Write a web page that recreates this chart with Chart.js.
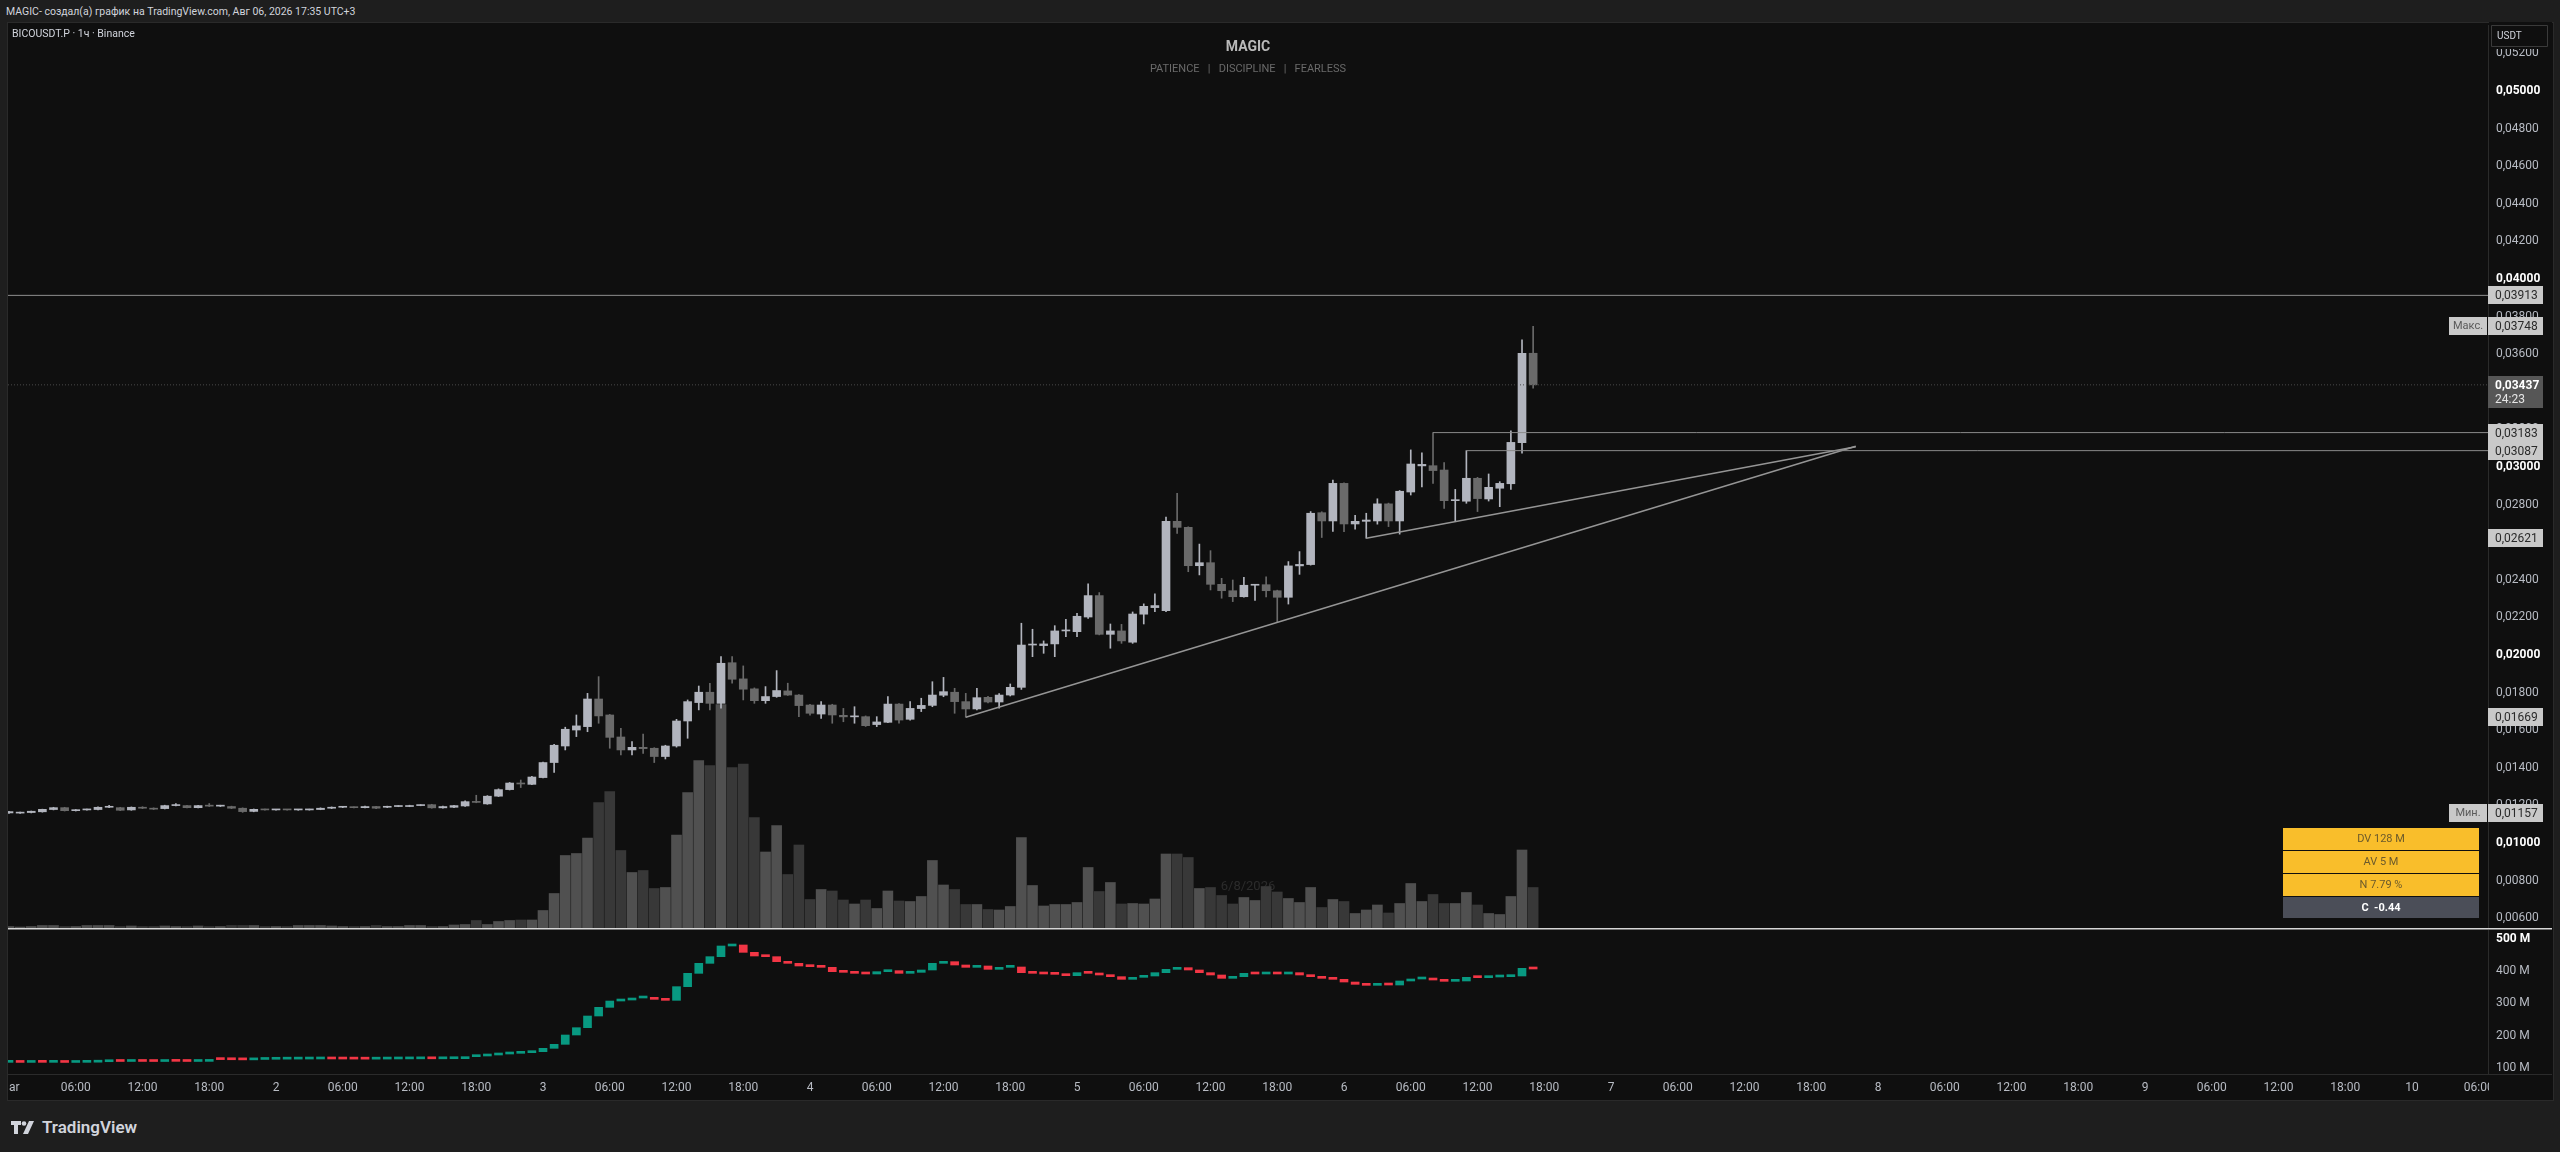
<!DOCTYPE html>
<html>
<head>
<meta charset="utf-8">
<script src="https://cdn.jsdelivr.net/npm/chart.js@4.4.1/dist/chart.umd.min.js"></script>
<style>
html, body { margin: 0; padding: 0; width: 2560px; height: 1152px; overflow: hidden; background: #1e1e1e; font-family: Roboto, "Noto Sans", sans-serif; }
#frame { position: absolute; left: 7px; top: 22px; width: 2547px; height: 1079px; background: #0f0f0f; border: 1px solid #2a2a2a; box-sizing: border-box; }
canvas { position: absolute; }
#c1 { left: 8px; top: 22px; width: 2544px; height: 908px; }
#c2 { left: 8px; top: 930px; width: 2544px; height: 170px; }
#hdr { position: absolute; left: 6px; top: 5px; font-size: 10.5px; line-height: 14px; color: #d1d4dc; white-space: nowrap; }
#sym { position: absolute; left: 12px; top: 27px; font-size: 10.5px; line-height: 14px; color: #d1d4dc; white-space: nowrap; }
#ttl { position: absolute; left: 1148px; width: 200px; top: 38px; text-align: center; font-size: 14px; font-weight: bold; line-height: 16px; color: #b9b9b9; }
#sub { position: absolute; left: 1048px; width: 400px; top: 62px; text-align: center; font-size: 11px; line-height: 14px; color: #6a6a6a; white-space: pre; }
#tbl { position: absolute; left: 2283px; top: 828px; width: 196px; font-size: 11px; text-align: center; }
#tbl div { height: 22px; line-height: 22px; margin-bottom: 1px; background: #f9be2b; color: #6b5a2c; }
#tbl div.c { background: #4b4e58; color: #ffffff; font-weight: bold; height: 21px; line-height: 21px; }
#logo { position: absolute; left: 11px; top: 1117px; height: 20px; display: flex; align-items: center; color: #d1d4dc; font-size: 17px; font-weight: 600; }
#logo svg { margin-right: 6px; }
</style>
</head>
<body>
<div id="hdr">MAGIC- создал(а) график на TradingView.com, Авг 06, 2026 17:35 UTC+3</div>
<div id="frame"></div>
<canvas id="c1" width="2544" height="908"></canvas>
<canvas id="c2" width="2544" height="170"></canvas>
<div id="sym">BICOUSDT.P · 1ч · Binance</div>
<div id="ttl">MAGIC</div>
<div id="sub">PATIENCE   |   DISCIPLINE   |   FEARLESS</div>
<div id="tbl">
  <div>DV 128 M</div>
  <div>AV 5 M</div>
  <div>N 7.79 %</div>
  <div class="c">C &nbsp;-0.44</div>
</div>
<div id="logo"><svg width="25" height="13" viewBox="0 0 25 13"><path d="M0 0h10v4H7v9H3V4H0z" fill="#d1d4dc"/><circle cx="13" cy="2.5" r="2.3" fill="#d1d4dc"/><path d="M18 0h5l-6 13h-5z" fill="#d1d4dc"/></svg>TradingView</div>

<script>
// hourly candles, index 0 = day 1 00:00
const open = [
  0.01160,0.01159,0.01162,0.01166,0.01178,0.01188,0.01172,0.01176,0.01178,0.01190,
  0.01188,0.01176,0.01190,0.01185,0.01183,0.01199,0.01199,0.01188,0.01199,0.01196,
  0.01194,0.01185,0.01168,0.01179,0.01176,0.01177,0.01176,0.01176,0.01178,0.01185,
  0.01190,0.01192,0.01188,0.01194,0.01190,0.01194,0.01194,0.01199,0.01204,0.01187,
  0.01190,0.01197,0.01220,0.01208,0.01249,0.01284,0.01319,0.01312,0.01348,0.01428,
  0.01516,0.01601,0.01619,0.01766,0.01681,0.01564,0.01495,0.01509,0.01504,0.01460,
  0.01516,0.01649,0.01747,0.01802,0.01743,0.01959,0.01873,0.01820,0.01757,0.01779,
  0.01809,0.01787,0.01734,0.01686,0.01734,0.01679,0.01671,0.01672,0.01630,0.01642,
  0.01739,0.01658,0.01715,0.01732,0.01786,0.01802,0.01752,0.01713,0.01775,0.01750,
  0.01787,0.01828,0.02053,0.02050,0.02059,0.02128,0.02124,0.02202,0.02316,0.02110,
  0.02128,0.02068,0.02217,0.02252,0.02236,0.02711,0.02679,0.02475,0.02491,0.02376,
  0.02342,0.02310,0.02371,0.02374,0.02342,0.02307,0.02474,0.02481,0.02757,0.02713,
  0.02913,0.02697,0.02711,0.02713,0.02804,0.02713,0.02867,0.03006,0.03007,0.02984,
  0.02821,0.02818,0.02940,0.02830,0.02887,0.02911,0.03129,0.03605
];
const high = [
  0.01168,0.01165,0.01170,0.01180,0.01190,0.01190,0.01178,0.01181,0.01192,0.01201,
  0.01190,0.01192,0.01193,0.01187,0.01201,0.01210,0.01201,0.01201,0.01210,0.01201,
  0.01196,0.01187,0.01181,0.01181,0.01178,0.01179,0.01178,0.01180,0.01187,0.01192,
  0.01194,0.01193,0.01196,0.01195,0.01196,0.01199,0.01201,0.01204,0.01206,0.01196,
  0.01201,0.01224,0.01254,0.01252,0.01288,0.01322,0.01335,0.01355,0.01430,0.01525,
  0.01616,0.01681,0.01796,0.01885,0.01684,0.01610,0.01539,0.01580,0.01507,0.01520,
  0.01658,0.01761,0.01835,0.01850,0.01991,0.01991,0.01942,0.01825,0.01832,0.01917,
  0.01850,0.01790,0.01738,0.01752,0.01738,0.01716,0.01725,0.01676,0.01672,0.01779,
  0.01742,0.01752,0.01770,0.01858,0.01881,0.01823,0.01796,0.01823,0.01780,0.01795,
  0.01846,0.02169,0.02137,0.02075,0.02156,0.02190,0.02222,0.02378,0.02332,0.02165,
  0.02163,0.02229,0.02272,0.02325,0.02733,0.02860,0.02682,0.02590,0.02555,0.02408,
  0.02399,0.02413,0.02376,0.02416,0.02345,0.02497,0.02550,0.02763,0.02762,0.02931,
  0.02916,0.02743,0.02754,0.02831,0.02808,0.02875,0.03091,0.03076,0.03183,0.03023,
  0.02881,0.03087,0.02945,0.02963,0.02922,0.03193,0.03676,0.03748
];
const low = [
  0.01158,0.01157,0.01160,0.01164,0.01176,0.01170,0.01170,0.01174,0.01176,0.01188,
  0.01172,0.01174,0.01183,0.01178,0.01181,0.01197,0.01186,0.01186,0.01194,0.01194,
  0.01183,0.01163,0.01166,0.01174,0.01174,0.01174,0.01174,0.01175,0.01177,0.01183,
  0.01188,0.01186,0.01187,0.01183,0.01188,0.01193,0.01193,0.01198,0.01185,0.01185,
  0.01188,0.01195,0.01214,0.01206,0.01247,0.01282,0.01295,0.01310,0.01346,0.01376,
  0.01495,0.01566,0.01592,0.01637,0.01504,0.01468,0.01468,0.01477,0.01428,0.01447,
  0.01510,0.01557,0.01708,0.01708,0.01717,0.01850,0.01761,0.01743,0.01743,0.01775,
  0.01785,0.01672,0.01680,0.01663,0.01637,0.01645,0.01637,0.01620,0.01619,0.01640,
  0.01637,0.01654,0.01699,0.01725,0.01778,0.01690,0.01669,0.01708,0.01745,0.01717,
  0.01782,0.01817,0.01991,0.02009,0.01991,0.02098,0.02098,0.02195,0.02107,0.02036,
  0.02062,0.02062,0.02165,0.02231,0.02231,0.02647,0.02443,0.02426,0.02346,0.02302,
  0.02284,0.02307,0.02291,0.02309,0.02172,0.02271,0.02429,0.02478,0.02625,0.02657,
  0.02656,0.02669,0.02621,0.02696,0.02683,0.02643,0.02851,0.02894,0.02913,0.02780,
  0.02709,0.02807,0.02763,0.02819,0.02789,0.02881,0.03073,0.03420
];
const close = [
  0.01167,0.01163,0.01169,0.01179,0.01188,0.01172,0.01176,0.01179,0.01190,0.01194,
  0.01174,0.01190,0.01185,0.01180,0.01199,0.01201,0.01188,0.01199,0.01196,0.01198,
  0.01185,0.01167,0.01179,0.01176,0.01177,0.01176,0.01177,0.01178,0.01185,0.01190,
  0.01192,0.01188,0.01194,0.01185,0.01194,0.01197,0.01199,0.01202,0.01187,0.01194,
  0.01199,0.01220,0.01216,0.01249,0.01284,0.01319,0.01314,0.01351,0.01428,0.01520,
  0.01605,0.01623,0.01766,0.01676,0.01562,0.01495,0.01509,0.01502,0.01460,0.01516,
  0.01649,0.01752,0.01802,0.01743,0.01956,0.01871,0.01818,0.01757,0.01779,0.01811,
  0.01787,0.01731,0.01690,0.01734,0.01681,0.01671,0.01675,0.01624,0.01644,0.01739,
  0.01654,0.01716,0.01732,0.01787,0.01805,0.01752,0.01713,0.01773,0.01750,0.01787,
  0.01828,0.02053,0.02055,0.02059,0.02128,0.02131,0.02206,0.02316,0.02110,0.02128,
  0.02075,0.02218,0.02259,0.02263,0.02711,0.02679,0.02475,0.02491,0.02376,0.02342,
  0.02310,0.02371,0.02374,0.02342,0.02307,0.02474,0.02482,0.02754,0.02713,0.02913,
  0.02697,0.02711,0.02718,0.02804,0.02713,0.02871,0.03016,0.03014,0.02981,0.02821,
  0.02825,0.02940,0.02832,0.02892,0.02913,0.03131,0.03605,0.03437
];
// volume, millions
const volume = [
  0.3,0.2,0.3,0.5,0.5,0.3,0.3,0.5,0.5,0.5,
  0.3,0.4,0.3,0.3,0.4,0.3,0.3,0.4,0.3,0.3,
  0.5,0.5,0.5,0.3,0.3,0.3,0.5,0.5,0.5,0.4,
  0.3,0.3,0.3,0.5,0.3,0.3,0.5,0.5,0.3,0.3,
  0.6,0.7,1.5,0.7,1.3,1.5,1.6,1.6,3.5,6.9,
  14.5,14.9,18,25.1,27.3,15.5,11.1,11.5,7.9,8.1,
  18.6,27.1,33.5,32.5,44.7,32.1,32.8,22.1,15.2,20.5,
  10.7,16.6,5.7,7.7,7.4,5.6,4.8,5.6,3.9,7.4,
  5.4,5.3,6.3,13.5,8.6,7.7,4.7,4.7,3.7,3.6,
  4.3,18.1,8.5,4.4,4.7,4.7,5.1,12.1,7.3,9.1,
  4.8,4.9,4.8,5.8,14.8,14.8,14.1,7.9,8.1,6.5,
  4.8,6.1,5.5,8.3,7.2,5.9,5.1,8.1,4.1,5.7,
  5.3,2.9,3.6,4.6,3.0,4.9,8.9,5.3,6.7,4.9,
  4.9,7.1,4.6,2.9,2.7,6.3,15.6,8.1
];
// lower pane: cumulative volume, millions (close of each hour)
const cumVol = [
  117.5,117.3,117.8,117.5,117.6,117.2,117.5,118,119.5,120.5,
  120.2,120.6,120.3,120.1,120.7,120.6,120.2,120.5,126.5,126,
  125.6,125.2,126.5,127,127.4,127.6,127.8,128,128.2,128,
  127.8,127.6,127.4,127.7,128,128.2,128.4,128.6,128.5,128.8,
  129,135.1,137.2,140.3,143.4,145.5,147.5,150.6,161,173.4,
  202.3,225,261.2,288.1,307.7,310.8,317,319.1,312.9,309.8,
  352.2,393.5,424.5,445.2,478.3,481.4,458.6,447.3,445.2,429.7,
  424.5,416.3,414.2,412.1,398.7,396.6,393.5,391.5,398.7,401.8,
  393.5,396.6,403.9,424.5,429.7,419.4,412.1,416.3,405.9,412.1,
  413.2,395.6,393.5,391.5,390.4,386.3,395.6,393.5,388.4,383.2,
  374.9,381.1,385.3,395.6,405.9,411.1,403.9,395.6,388.4,378,
  383.2,393.5,391.5,395.6,391.5,395.6,388.4,383.2,378,374.9,
  366.6,359.4,356.3,359.4,357.3,369.8,376,378,372.8,368.7,
  369.8,381.1,380.1,382.2,383.2,385.3,409,407
];

const priceTicks = [0.006,0.008,0.010,0.012,0.014,0.016,0.018,0.020,0.022,0.024,0.026,0.028,0.030,
                    0.032,0.034,0.036,0.038,0.040,0.042,0.044,0.046,0.048,0.050,0.052];
const cumTicks = [100, 200, 300, 400, 500];
const timeLabels = ['Mar','06:00','12:00','18:00','2','06:00','12:00','18:00','3','06:00','12:00','18:00',
                    '4','06:00','12:00','18:00','5','06:00','12:00','18:00','6','06:00','12:00','18:00',
                    '7','06:00','12:00','18:00','8','06:00','12:00','18:00','9','06:00','12:00','18:00',
                    '10','06:00'];

// drawn levels and trendlines (hour index, price)
const levelPrice = [0.03913, 0.03183, 0.03087];
const levelFrom  = [-0.09, 128, 131];
const trendLowX = [86, 166],  trendLowY = [0.01669, 0.03110];
const trendHighX = [122, 166], trendHighY = [0.02621, 0.03108];
const anchorPrices = [0.02621, 0.01669];

const X_MIN = -0.09, X_MAX = 222.83;

Chart.defaults.font.family = 'Roboto, "Noto Sans", sans-serif';
Chart.defaults.animation = false;

const UP = '#b2b5be', DOWN = '#6a6a6a';
const isUp = close.map((c, i) => c >= open[i]);
const lastClose = close[close.length - 1];
const maxHigh = Math.max(...high), minLow = Math.min(...low);
const fmt = v => v.toFixed(5).replace('.', ',');
const isMajor = c => !!(c.tick && Math.round(c.tick.value * 1000) % 10 === 0);
const isTop = c => !!(c.tick && c.tick.value === 500);

const lineDs = (xs, ys, color, width, dash) => ({
  type: 'line', yAxisID: 'y', order: 0,
  data: xs.map((x, i) => ({ x: x, y: ys[i] })),
  borderColor: color, borderWidth: width, borderDash: dash || [],
  pointRadius: 0, fill: false, tension: 0
});

const mainDecor = {
  id: 'mainDecor',
  beforeDatasetsDraw(chart) {
    const ctx = chart.ctx;
    ctx.save();
    ctx.fillStyle = '#2c2c2c';
    ctx.font = '13px Roboto';
    ctx.textAlign = 'center';
    ctx.textBaseline = 'middle';
    ctx.fillText('6/8/2026', 1240, 865);
    ctx.restore();
  },
  afterDraw(chart) {
    const ctx = chart.ctx, ys = chart.scales.y;
    const ax = chart.chartArea.right;
    ctx.save();
    ctx.fillStyle = '#d6d6d6';
    ctx.fillRect(0, 906, chart.width, 1.5);

    const tag = (val, txt, bg, fg) => {
      const y = Math.round(ys.getPixelForValue(val));
      ctx.fillStyle = bg;
      ctx.fillRect(ax, y - 9, 55, 18);
      ctx.fillStyle = fg;
      ctx.font = '12px Roboto';
      ctx.textAlign = 'left';
      ctx.textBaseline = 'middle';
      ctx.fillText(txt, ax + 7, y + 0.5);
      return y;
    };
    const pre = (y, txt) => {
      ctx.fillStyle = '#c9c9c9';
      ctx.fillRect(ax - 39, y - 9, 38, 18);
      ctx.fillStyle = '#5a5a5a';
      ctx.font = '11px Roboto';
      ctx.textAlign = 'center';
      ctx.fillText(txt, ax - 20, y + 0.5);
    };
    levelPrice.forEach(p => tag(p, fmt(p), '#c9c9c9', '#2a2a2a'));
    anchorPrices.forEach(p => tag(p, fmt(p), '#c9c9c9', '#2a2a2a'));
    pre(tag(maxHigh, fmt(maxHigh), '#c9c9c9', '#2a2a2a'), 'Макс.');
    pre(tag(minLow, fmt(minLow), '#c9c9c9', '#2a2a2a'), 'Мин.');

    // current price
    const cy = Math.round(ys.getPixelForValue(lastClose));
    ctx.fillStyle = '#565656';
    ctx.fillRect(ax, cy - 9, 55, 32);
    ctx.fillStyle = '#ffffff';
    ctx.font = 'bold 12px Roboto';
    ctx.textAlign = 'left';
    ctx.textBaseline = 'middle';
    ctx.fillText(fmt(lastClose), ax + 7, cy + 0.5);
    ctx.font = '12px Roboto';
    ctx.fillStyle = '#e6e6e6';
    ctx.fillText('24:23', ax + 7, cy + 15);

    // currency box
    ctx.fillStyle = '#0f0f0f';
    ctx.fillRect(ax + 1, 0, 63, 27);
    ctx.strokeStyle = '#3a3a3a';
    ctx.lineWidth = 1;
    ctx.beginPath();
    ctx.rect(ax + 3.5, 3.5, 56, 21);
    ctx.stroke();
    ctx.fillStyle = '#d1d4dc';
    ctx.font = '10px Roboto';
    ctx.textAlign = 'left';
    ctx.fillText('USDT', ax + 9, 14.5);
    ctx.restore();
  }
};

const priceChart = new Chart(document.getElementById('c1'), {
  type: 'bar',
  data: {
    datasets: [
      {
        yAxisID: 'yv', order: 3, grouped: false,
        data: volume.map((v, i) => ({ x: i, y: v })),
        backgroundColor: isUp.map(u => u ? '#505050' : '#383838'),
        barThickness: 10
      },
      {
        yAxisID: 'y', order: 2, grouped: false,
        data: low.map((l, i) => ({ x: i, y: [l, high[i]] })),
        backgroundColor: isUp.map(u => u ? UP : DOWN),
        barThickness: 1
      },
      {
        yAxisID: 'y', order: 1, grouped: false,
        data: open.map((o, i) => ({ x: i, y: [o, close[i]] })),
        backgroundColor: isUp.map(u => u ? UP : DOWN),
        barThickness: 8, minBarLength: 1
      },
      lineDs([X_MIN, X_MAX], [lastClose, lastClose], '#4a4a4a', 1, [1, 2]),
      lineDs([levelFrom[0], X_MAX], [levelPrice[0], levelPrice[0]], '#8e8e8e', 1),
      lineDs([levelFrom[1], X_MAX], [levelPrice[1], levelPrice[1]], '#8a8a8a', 1),
      lineDs([levelFrom[2], X_MAX], [levelPrice[2], levelPrice[2]], '#8a8a8a', 1),
      lineDs(trendLowX, trendLowY, '#959595', 1.5),
      lineDs(trendHighX, trendHighY, '#959595', 1.5)
    ]
  },
  options: {
    responsive: false,
    layout: { padding: { top: 3, bottom: 2, left: 0, right: 0 } },
    plugins: { legend: { display: false }, tooltip: { enabled: false } },
    scales: {
      x: { type: 'linear', min: X_MIN, max: X_MAX, offset: false, display: false },
      yv: { type: 'linear', min: 0, max: 180.6, display: false },
      y: {
        type: 'linear', position: 'right', min: 0.005479, max: 0.053511,
        afterFit(s) { s.width = 64; s.paddingTop = 0; s.paddingBottom = 0; },
        afterBuildTicks(s) { s.ticks = priceTicks.map(v => ({ value: v })); },
        grid: { display: false, drawTicks: false },
        border: { display: true, color: '#2b2b2b' },
        ticks: {
          padding: 8,
          color: c => (isMajor(c) ? '#ffffff' : '#b8bcc4'),
          font: c => ({ size: 12, weight: isMajor(c) ? 'bold' : 'normal' }),
          callback: v => fmt(v)
        }
      }
    }
  },
  plugins: [mainDecor]
});

const lowerDecor = {
  id: 'lowerDecor',
  afterDraw(chart) {
    const ctx = chart.ctx, a = chart.chartArea;
    ctx.save();
    ctx.fillStyle = '#0f0f0f';
    ctx.fillRect(a.right + 1, a.bottom + 1, chart.width - a.right, chart.height - a.bottom);
    ctx.fillStyle = '#2b2b2b';
    ctx.fillRect(0, a.bottom, chart.width, 1);
    ctx.restore();
  }
};

const cumOpen = cumVol.map((v, i) => i === 0 ? v : cumVol[i - 1]);

const cumChart = new Chart(document.getElementById('c2'), {
  type: 'bar',
  data: {
    datasets: [{
      grouped: false,
      data: cumVol.map((v, i) => ({ x: i, y: [cumOpen[i], v] })),
      backgroundColor: cumVol.map((v, i) => v >= cumOpen[i] ? '#089981' : '#f23645'),
      barThickness: 8, minBarLength: 2
    }]
  },
  options: {
    responsive: false,
    layout: { padding: 0 },
    plugins: { legend: { display: false }, tooltip: { enabled: false } },
    scales: {
      x: {
        type: 'linear', min: X_MIN, max: X_MAX, offset: false, position: 'bottom',
        afterFit(s) { s.height = 26; s.paddingLeft = 0; s.paddingRight = 0; },
        afterBuildTicks(s) { s.ticks = timeLabels.map((t, i) => ({ value: i * 6 })); },
        grid: { display: false, drawTicks: false },
        border: { display: false },
        ticks: {
          autoSkip: false, maxRotation: 0, padding: 7, color: '#b8bcc4', font: { size: 12 },
          callback: (v, i) => timeLabels[i]
        }
      },
      y: {
        type: 'linear', position: 'right', min: 81.4, max: 527.9,
        afterFit(s) { s.width = 64; s.paddingTop = 0; s.paddingBottom = 0; },
        afterBuildTicks(s) { s.ticks = cumTicks.map(v => ({ value: v })); },
        grid: { display: false, drawTicks: false },
        border: { display: true, color: '#2b2b2b' },
        ticks: {
          padding: 8,
          color: c => (isTop(c) ? '#ffffff' : '#b8bcc4'),
          font: c => ({ size: 12, weight: isTop(c) ? 'bold' : 'normal' }),
          callback: v => v + ' M'
        }
      }
    }
  },
  plugins: [lowerDecor]
});
</script>
</body>
</html>
